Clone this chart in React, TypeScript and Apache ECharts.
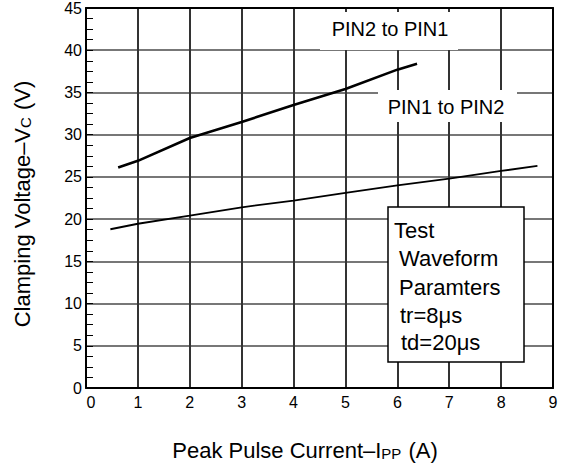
import React, { useEffect, useRef } from 'react';
import * as echarts from 'echarts';

const xUpper = [0.62, 1, 2, 3, 4, 5, 6, 6.38];
const yUpper = [26.1, 26.9, 29.6, 31.5, 33.5, 35.4, 37.7, 38.4];
const xLower = [0.47, 1, 2, 3, 4, 5, 6, 7, 8, 8.7];
const yLower = [18.8, 19.45, 20.4, 21.4, 22.2, 23.1, 24.0, 24.8, 25.7, 26.3];

const xMin = 0, xMax = 9, xStep = 1;
const yMin = 0, yMax = 45, yStep = 5;

const upperLabel = 'PIN2 to PIN1';
const lowerLabel = 'PIN1 to PIN2';
const boxLines = ['Test', 'Waveform', 'Paramters', 'tr=8μs', 'td=20μs'];

const FONT = '"Liberation Sans", Arial, Helvetica, sans-serif';

export default function App() {
  const ref = useRef<HTMLDivElement>(null);
  useEffect(() => {
    const chart = echarts.init(ref.current!, null, { renderer: 'svg' });
    const baseX = { type: 'value', min: xMin, max: xMax, interval: xStep, gridIndex: 0 };
    const baseY = { type: 'value', min: yMin, max: yMax, interval: yStep, gridIndex: 0 };
    const boxLineX = [394, 399, 399, 400, 401];
    const boxLineY = [230, 258, 287, 315, 342];
    const border = { show: true, onZero: false, lineStyle: { color: '#000', width: 2 } };
    chart.setOption({
      animation: false,
      textStyle: { fontFamily: FONT },
      grid: { left: 86, top: 7, width: 467, height: 381, containLabel: false },
      xAxis: [
        {
          ...baseX, position: 'bottom',
          axisLine: border,
          axisTick: { show: false },
          axisLabel: {
            show: true, margin: 6, fontSize: 16, color: '#000', fontFamily: FONT,
            formatter: (v: number) => (v === 0 ? '{z|0}' : String(v)),
            rich: { z: { fontSize: 16, fontFamily: FONT, color: '#000', padding: [0, 0, 0, 10] } },
          },
          splitLine: { show: true, lineStyle: { color: '#333333', width: 2, type: 'solid' } },
        },
        {
          ...baseX, position: 'top',
          axisLine: border,
          axisTick: { show: false }, axisLabel: { show: false }, splitLine: { show: false },
        },
      ],
      yAxis: [
        {
          ...baseY, position: 'left',
          axisLine: border,
          axisTick: { show: true, inside: true, length: 7, lineStyle: { color: '#000', width: 1 } },
          minorTick: { show: true, splitNumber: 4, length: 7, lineStyle: { color: '#000', width: 1 } },
          axisLabel: { show: true, margin: 4, fontSize: 16, color: '#000', fontFamily: FONT },
          splitLine: { show: true, showMinLine: false, showMaxLine: false, lineStyle: { color: '#777777', width: 2, type: 'solid' } },
        },
        {
          ...baseY, position: 'right',
          axisLine: border,
          axisTick: { show: false }, axisLabel: { show: false }, splitLine: { show: false },
        },
      ],
      series: [
        {
          type: 'line', xAxisIndex: 0, yAxisIndex: 0, z: 20,
          data: xUpper.map((x, i) => [x, yUpper[i]]),
          showSymbol: false, symbol: 'none',
          lineStyle: { color: '#000', width: 2.6 },
        },
        {
          type: 'line', xAxisIndex: 0, yAxisIndex: 0, z: 20,
          data: xLower.map((x, i) => [x, yLower[i]]),
          showSymbol: false, symbol: 'none',
          lineStyle: { color: '#000', width: 1.8 },
        },
      ],
      graphic: [
        { type: 'rect', z: 2, shape: { x: 320, y: 12, width: 138, height: 38 }, style: { fill: '#fff' } },
        { type: 'text', z: 3, x: 390, y: 29, style: { text: upperLabel, fontSize: 20, fontFamily: FONT, fill: '#000', align: 'center', verticalAlign: 'middle' } },
        { type: 'rect', z: 2, shape: { x: 378, y: 90, width: 139, height: 32 }, style: { fill: '#fff' } },
        { type: 'text', z: 3, x: 446, y: 107, style: { text: lowerLabel, fontSize: 20, fontFamily: FONT, fill: '#000', align: 'center', verticalAlign: 'middle' } },
        { type: 'rect', z: 3, shape: { x: 388, y: 207, width: 136, height: 155 }, style: { fill: '#fff', stroke: '#000', lineWidth: 1.5 } },
        ...boxLines.map((t, i) => ({
          type: 'text', z: 4, x: boxLineX[i], y: boxLineY[i],
          style: { text: t, fontSize: 22, fontFamily: FONT, fill: '#000', align: 'left', verticalAlign: 'middle' },
        })),
        {
          type: 'text', z: 4, x: 22, y: 204, rotation: Math.PI / 2,
          style: {
            text: 'Clamping Voltage–V{s|C} (V)', fontSize: 22, fontFamily: FONT, fill: '#000',
            align: 'center', verticalAlign: 'middle',
            rich: { s: { fontSize: 15, fontFamily: FONT, fill: '#000', verticalAlign: 'bottom', padding: [0, 1, 0, 0] } },
          },
        },
        {
          type: 'text', z: 4, x: 305, y: 450,
          style: {
            text: 'Peak Pulse Current–I{s|PP} (A)', fontSize: 22, fontFamily: FONT, fill: '#000',
            align: 'center', verticalAlign: 'middle',
            rich: { s: { fontSize: 15, fontFamily: FONT, fill: '#000', verticalAlign: 'bottom', padding: [0, 1, 0, 0] } },
          },
        },
      ],
    });
    return () => chart.dispose();
  }, []);
  return <div ref={ref} style={{ width: 563, height: 467, position: 'absolute', left: 0, top: 0 }} />;
}
